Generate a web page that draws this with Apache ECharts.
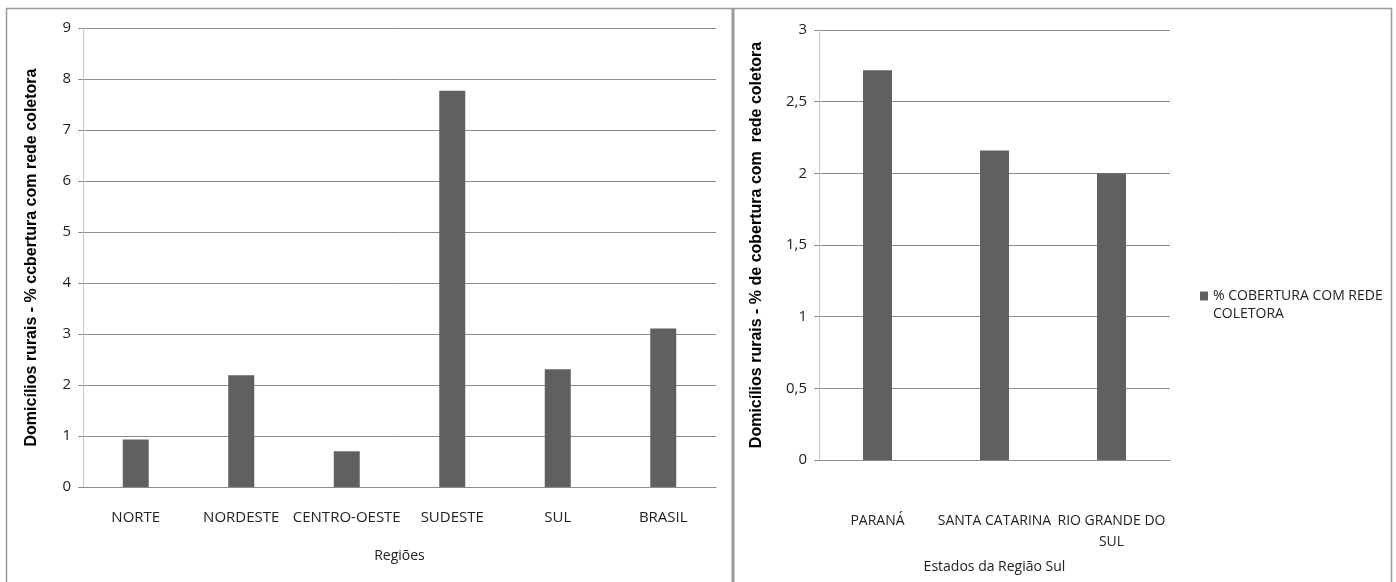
<!DOCTYPE html>
<html>
<head>
<meta charset="utf-8">
<script src="https://cdn.jsdelivr.net/npm/echarts@6/dist/echarts.min.js"></script>
<style>
html,body{margin:0;padding:0;background:#fff;}
#c{width:1396px;height:582px;}
</style>
</head>
<body>
<div id="c"></div>
<script>
// Left chart data
const regioes = ['NORTE', 'NORDESTE', 'CENTRO-OESTE', 'SUDESTE', 'SUL', 'BRASIL'];
const regioesValores = [0.93, 2.19, 0.70, 7.77, 2.31, 3.11];
// Right chart data
const estados = ['PARANÁ', 'SANTA CATARINA', 'RIO GRANDE DO\nSUL'];
const estadosValores = [2.72, 2.16, 2.0];
const serieNome = '% COBERTURA COM REDE COLETORA';

const FONT = "'Liberation Sans Narrow', 'Open Sans', sans-serif";
const BAR = '#606060';
const GRID = '#8c8c8c';

const chart = echarts.init(document.getElementById('c'), null, {renderer: 'canvas'});

function yAxisBase(gridIndex, max, interval, name, nameGap, fmt) {
  return {
    type: 'value', gridIndex, min: 0, max, interval,
    name, nameLocation: 'middle', nameGap, nameRotate: 90,
    nameTextStyle: {fontFamily: "'Liberation Sans', Arial, sans-serif", fontWeight: 'bold', fontSize: 16, color: '#000'},
    axisLine: {show: true, lineStyle: {color: '#c8c8c8', width: 1}},
    axisTick: {show: true, length: 5, lineStyle: {color: GRID}},
    splitLine: {show: true, lineStyle: {color: GRID, width: 1}},
    axisLabel: {fontFamily: FONT, fontSize: 15, color: '#222', margin: 12, formatter: fmt}
  };
}

const option = {
  backgroundColor: '#fff',
  animation: false,
  grid: [
    {left: 83, top: 28, width: 633, height: 459},
    {left: 819, top: 30, width: 351, height: 430}
  ],
  legend: {
    data: [serieNome],
    left: 1195, top: 264,
    orient: 'vertical',
    itemWidth: 8, itemHeight: 9,
    icon: 'rect',
    formatter: () => ' \n% COBERTURA COM REDE\nCOLETORA',
    textStyle: {fontFamily: FONT, fontSize: 14, color: '#222', lineHeight: 18}
  },
  xAxis: [
    {
      type: 'category', gridIndex: 0, data: regioes,
      name: 'Regiões', nameLocation: 'middle', nameGap: 62,
      nameTextStyle: {fontFamily: FONT, fontSize: 14, color: '#222'},
      axisLine: {show: true, lineStyle: {color: GRID}},
      axisTick: {show: false},
      axisLabel: {fontFamily: FONT, fontSize: 15, color: '#222', margin: 23, interval: 0}
    },
    {
      type: 'category', gridIndex: 1, data: estados,
      name: 'Estados da Região Sul', nameLocation: 'middle', nameGap: 100,
      nameTextStyle: {fontFamily: FONT, fontSize: 14, color: '#222'},
      axisLine: {show: true, lineStyle: {color: GRID}},
      axisTick: {show: false},
      axisLabel: {fontFamily: FONT, fontSize: 14, color: '#222', margin: 51, interval: 0, lineHeight: 21}
    }
  ],
  yAxis: [
    yAxisBase(0, 9, 1, 'Domicílios rurais - % ccbertura com rede coletora', 43, v => String(v)),
    yAxisBase(1, 3, 0.5, 'Domicílios rurais - % de cobertura com  rede coletora', 54, v => String(v).replace('.', ','))
  ],
  series: [
    {
      type: 'bar', name: 'Regiões', xAxisIndex: 0, yAxisIndex: 0,
      data: regioesValores, barWidth: 26,
      itemStyle: {color: BAR}
    },
    {
      type: 'bar', name: serieNome, xAxisIndex: 1, yAxisIndex: 1,
      data: estadosValores, barWidth: 29,
      itemStyle: {color: BAR}
    }
  ],
  graphic: [
    {type: 'line', shape: {x1: 6, y1: 8.5, x2: 1392, y2: 8.5}, style: {stroke: '#9a9a9a', lineWidth: 1.5}, silent: true},
    {type: 'line', shape: {x1: 6.5, y1: 8, x2: 6.5, y2: 582}, style: {stroke: '#9a9a9a', lineWidth: 1.5}, silent: true},
    {type: 'line', shape: {x1: 733, y1: 8, x2: 733, y2: 582}, style: {stroke: '#9a9a9a', lineWidth: 3}, silent: true},
    {type: 'line', shape: {x1: 1391.5, y1: 8, x2: 1391.5, y2: 582}, style: {stroke: '#9a9a9a', lineWidth: 1.5}, silent: true}
  ]
};
chart.setOption(option);
</script>
</body>
</html>
